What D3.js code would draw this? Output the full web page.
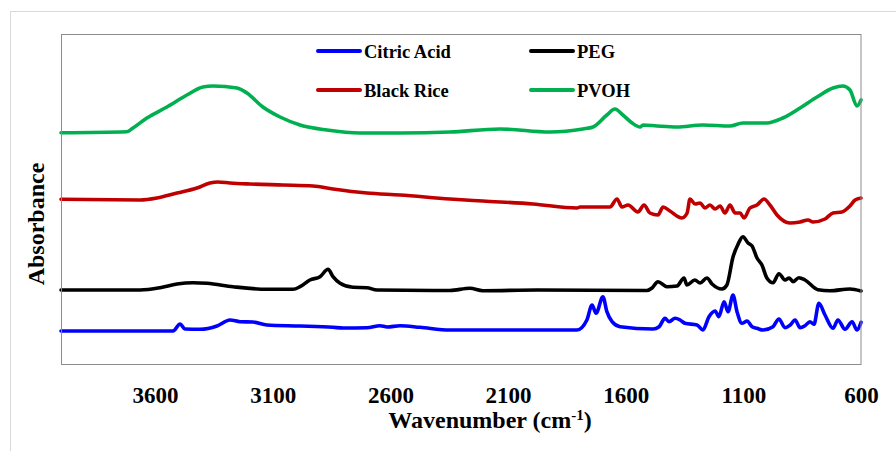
<!DOCTYPE html>
<html>
<head>
<meta charset="utf-8">
<script src="https://cdn.jsdelivr.net/npm/d3@7"></script>
<style>
  html, body { margin: 0; padding: 0; background: #fff; }
  svg { display: block; }
  text { font-family: "Liberation Serif", "Times New Roman", serif; font-weight: bold; fill: #000; }
</style>
</head>
<body>
<svg id="chart" width="896" height="451"></svg>
<script>
// ---------- data ----------
const seriesNames = ["Citric Acid", "Black Rice", "PEG", "PVOH"];
const xTickValues = [3600, 3100, 2600, 2100, 1600, 1100, 600];

const citricWn = [4000,3524,3494,3473,3409,3337,3282,3239,3184,3125,2984,2844,2801,2700,2644,2614,2559,2474,2347,1807,1765,1743,1726,1697,1680,1658,1624,1484,1458,1433,1416,1390,1369,1348,1297,1272,1246,1220,1204,1182,1165,1144,1127,1106,1084,1063,1042,1016,974,949,923,901,880,859,838,817,800,779,753,719,698,668,638,617,600];
const citricAbs = [0.33,0.33,0.40,0.35,0.347,0.38,0.44,0.423,0.42,0.39,0.38,0.367,0.36,0.363,0.383,0.37,0.383,0.367,0.34,0.34,0.44,0.59,0.507,0.673,0.523,0.423,0.373,0.35,0.373,0.457,0.423,0.457,0.44,0.407,0.39,0.34,0.473,0.53,0.473,0.623,0.523,0.69,0.523,0.407,0.43,0.373,0.357,0.34,0.373,0.45,0.363,0.39,0.44,0.363,0.383,0.423,0.397,0.607,0.49,0.357,0.44,0.347,0.423,0.34,0.417];

const pegWn = [4000,3664,3579,3507,3439,3379,3269,3125,3014,2984,2942,2899,2865,2844,2814,2759,2700,2657,2347,2262,2207,1977,1510,1488,1463,1425,1382,1352,1340,1306,1284,1255,1233,1191,1170,1144,1122,1102,1080,1063,1042,1021,1000,974,949,923,905,889,864,838,783,732,647,600];
const pegAbs = [0.74,0.74,0.763,0.80,0.813,0.807,0.773,0.747,0.747,0.773,0.84,0.873,0.947,0.873,0.807,0.767,0.763,0.74,0.735,0.757,0.733,0.74,0.735,0.76,0.823,0.773,0.78,0.86,0.79,0.84,0.81,0.86,0.80,0.75,0.79,1.07,1.20,1.273,1.21,1.18,1.06,0.99,0.86,0.813,0.903,0.84,0.86,0.823,0.863,0.84,0.743,0.733,0.75,0.73];

const riceWn = [4000,3664,3592,3507,3422,3367,3333,3282,3197,3057,2929,2844,2700,2559,2347,2207,1994,1807,1794,1667,1637,1616,1590,1548,1522,1497,1463,1441,1412,1361,1339,1327,1305,1284,1263,1242,1220,1199,1178,1157,1135,1114,1097,1072,1042,1012,987,957,902,859,825,804,753,719,681,647,625,600];
const riceAbs = [1.647,1.64,1.66,1.71,1.76,1.81,1.82,1.81,1.80,1.79,1.78,1.75,1.71,1.69,1.65,1.63,1.60,1.56,1.57,1.57,1.65,1.57,1.59,1.52,1.59,1.51,1.49,1.57,1.53,1.46,1.51,1.65,1.60,1.61,1.56,1.59,1.55,1.58,1.51,1.59,1.51,1.51,1.46,1.56,1.59,1.65,1.59,1.49,1.41,1.42,1.44,1.42,1.45,1.51,1.52,1.58,1.64,1.66];

const pvohWn = [4000,3720,3694,3635,3550,3465,3397,3354,3252,3210,3142,3069,2984,2870,2729,2559,2347,2134,1922,1782,1739,1680,1646,1612,1573,1539,1526,1467,1382,1272,1157,1102,1000,932,859,787,719,677,647,617,600];
const pvohAbs = [2.313,2.323,2.36,2.46,2.57,2.69,2.77,2.78,2.76,2.71,2.57,2.47,2.39,2.34,2.31,2.31,2.32,2.35,2.32,2.35,2.37,2.49,2.55,2.49,2.41,2.37,2.39,2.38,2.37,2.39,2.38,2.41,2.41,2.46,2.56,2.67,2.76,2.78,2.74,2.58,2.64];

// ---------- styles ----------
const colors = { "Citric Acid": "#0000ff", "Black Rice": "#c00000", "PEG": "#000000", "PVOH": "#00b050" };
const series = [
  { name: "Citric Acid", wn: citricWn, abs: citricAbs },
  { name: "PEG", wn: pegWn, abs: pegAbs },
  { name: "Black Rice", wn: riceWn, abs: riceAbs },
  { name: "PVOH", wn: pvohWn, abs: pvohAbs }
];

const svg = d3.select("#chart");
const plot = { left: 61, top: 34, right: 861, bottom: 364 };

// outer chart-area border
svg.append("rect")
  .attr("x", 10.5).attr("y", 11.5).attr("width", 920).attr("height", 470)
  .attr("fill", "#fff").attr("stroke", "#d9d9d9").attr("stroke-width", 1);

const x = d3.scaleLinear().domain([4000, 600]).range([plot.left, plot.right]);
const y = d3.scaleLinear().domain([0, 3.3]).range([plot.bottom, plot.top]);

// lines
const line = d3.line()
  .x(d => x(d[0])).y(d => y(d[1]))
  .curve(d3.curveMonotoneX);

const g = svg.append("g");
series.forEach(s => {
  const pts = s.wn.map((w, i) => [w, s.abs[i]]);
  g.append("path")
    .datum(pts)
    .attr("d", line)
    .attr("fill", "none")
    .attr("stroke", colors[s.name])
    .attr("stroke-width", 3.6)
    .attr("stroke-linejoin", "round")
    .attr("stroke-linecap", "round");
});

// plot frame
svg.append("rect")
  .attr("x", plot.left + 0.5).attr("y", plot.top + 0.5)
  .attr("width", plot.right - plot.left - 0.5).attr("height", plot.bottom - plot.top)
  .attr("fill", "none").attr("stroke", "#8c8c8c").attr("stroke-width", 1);

// x axis
const xAxis = d3.axisBottom(x).tickValues(xTickValues).tickSize(0).tickPadding(23).tickFormat(d3.format("d"));
const ax = svg.append("g").attr("transform", `translate(0,${plot.bottom})`).call(xAxis);
ax.select(".domain").remove();
ax.selectAll("text")
  .style("font-family", '"Liberation Serif", "Times New Roman", serif')
  .style("font-weight", "bold")
  .style("font-size", "23px")
  .attr("fill", "#000");

// axis titles
const xt = svg.append("text")
  .attr("x", 490).attr("y", 428)
  .attr("text-anchor", "middle")
  .style("font-size", "24px");
xt.append("tspan").text("Wavenumber (cm");
xt.append("tspan").attr("dy", -8).style("font-size", "15px").text("-1");
xt.append("tspan").attr("dy", 8).text(")");

svg.append("text")
  .attr("transform", "translate(43.5,224) rotate(-90)")
  .attr("text-anchor", "middle")
  .style("font-size", "24px")
  .text("Absorbance");

// legend
const legendCols = [318, 531];
const legendRows = [51, 90];
const legendOrder = ["Citric Acid", "PEG", "Black Rice", "PVOH"];
legendOrder.forEach((name, i) => {
  const cx = legendCols[i % 2], cy = legendRows[Math.floor(i / 2)];
  svg.append("line")
    .attr("x1", cx).attr("x2", cx + 42).attr("y1", cy).attr("y2", cy)
    .attr("stroke", colors[name]).attr("stroke-width", 4).attr("stroke-linecap", "round");
  svg.append("text")
    .attr("x", cx + 46).attr("y", cy + 6.5)
    .style("font-size", "18.5px")
    .text(name);
});
</script>
</body>
</html>
